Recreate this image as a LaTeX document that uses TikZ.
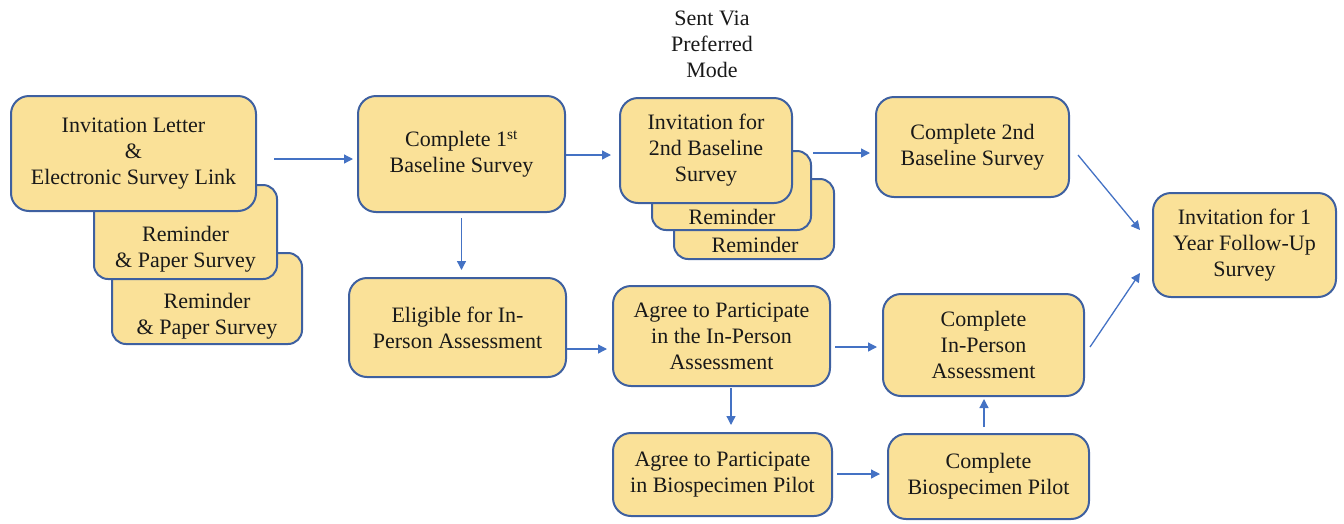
\documentclass[tikz,border=0pt]{standalone}
\usepackage{fontspec}
\setmainfont{Liberation Serif}
\usetikzlibrary{arrows.meta,calc}
\definecolor{boxfill}{RGB}{250,225,152}
\definecolor{boxline}{RGB}{62,96,160}
\definecolor{arrcol}{RGB}{68,114,196}
\definecolor{txtcol}{RGB}{25,25,25}
\tikzset{
  box/.style={draw=boxline, fill=boxfill, line width=2pt, rounded corners=18pt,
    inner sep=0pt, align=center, text=txtcol, font=\fontsize{22}{26}\selectfont},
  smallbox/.style={box, rounded corners=14pt},
  txt/.style={inner sep=0pt, align=center, text=txtcol, font=\fontsize{22}{26}\selectfont},
  arr/.style={draw=arrcol, line width=1.3pt, -{Triangle[length=9pt,width=9pt]}}
}
\begin{document}
\begin{tikzpicture}[x=1pt,y=-1pt]
\useasboundingbox (0,0) rectangle (1344,523);

% left stack
\node[smallbox, minimum width=190pt, minimum height=91pt] (R2) at (207,298.5) {};
\node[txt] (R2t) at (207,316) {Reminder\\\& Paper Survey};
\node[smallbox, minimum width=183pt, minimum height=94pt] (R1) at (185.5,232) {};
\node[txt] (R1t) at (185.5,249.5) {Reminder\\\& Paper Survey};
\node[box, minimum width=245pt, minimum height=115pt] (A) at (133.5,153.5)
  {Invitation Letter\\\&\\Electronic Survey Link};

% first baseline
\node[box, minimum width=207pt, minimum height=116pt] (C1) at (461.5,154)
  {Complete 1\textsuperscript{st}\\Baseline Survey};
\node[box, minimum width=217pt, minimum height=99pt] (E) at (457.5,327.5)
  {Eligible for In-\\Person Assessment};

% second baseline stack
\node[txt] (SV) at (712,44.5) {Sent Via\\Preferred\\Mode};
\node[smallbox, minimum width=160pt, minimum height=80pt] (RB) at (754,219) {};
\node[txt, anchor=base] (RBt) at (755,252) {Reminder};
\node[smallbox, minimum width=159pt, minimum height=79pt] (RA) at (731.5,190.5) {};
\node[txt, anchor=base] (RAt) at (732,224) {Reminder};
\node[box, minimum width=172pt, minimum height=105pt] (I2) at (706,150.5)
  {Invitation for\\2nd Baseline\\Survey};
\node[box, minimum width=193pt, minimum height=100pt] (C2) at (972.5,147)
  {Complete 2nd\\Baseline Survey};

% in-person
\node[box, minimum width=217pt, minimum height=100pt] (AIP) at (721.5,336)
  {Agree to Participate\\in the In-Person\\Assessment};
\node[box, minimum width=201pt, minimum height=102pt] (CIP) at (983.5,345)
  {Complete\\In-Person\\Assessment};
\node[box, minimum width=219pt, minimum height=83pt] (AB) at (722.5,474.5)
  {Agree to Participate\\in Biospecimen Pilot};
\node[box, minimum width=201pt, minimum height=85pt] (CB) at (988.5,476.5)
  {Complete\\Biospecimen Pilot};

% follow-up
\node[box, minimum width=183pt, minimum height=104pt] (F) at (1244.5,245)
  {Invitation for 1\\Year Follow-Up\\Survey};

% arrows
\draw[arr] ($(A.east)+(17,5.5)$) -- ($(C1.west)+(-4,5)$);
\draw[arr] ($(C1.east)+(0,1)$) -- ($(I2.west)+(-8,4.5)$);
\draw[arr] ($(C1.south)+(0,5)$) -- ($(E.north)+(4,-7)$);
\draw[arr] ($(I2.east)+(20,2.5)$) -- ($(C2.west)+(-5,6)$);
\draw[arr] ($(C2.east)+(8,8)$) -- ($(F.west)+(-12,-15)$);
\draw[arr] ($(E.east)+(0,21.5)$) -- ($(AIP.west)+(-5,13)$);
\draw[arr] ($(AIP.east)+(4,11)$) -- ($(CIP.west)+(-5,2)$);
\draw[arr] ($(AIP.south)+(9.5,1)$) -- ($(AB.north)+(8.5,-7)$);
\draw[arr] ($(AB.east)+(4,-0.5)$) -- ($(CB.west)+(-7,-2.5)$);
\draw[arr] ($(CB.north)+(-4.5,-6)$) -- ($(CIP.south)+(0.5,2)$);
\draw[arr] ($(CIP.east)+(5,2)$) -- ($(F.west)+(-12,28)$);
\end{tikzpicture}
\end{document}
